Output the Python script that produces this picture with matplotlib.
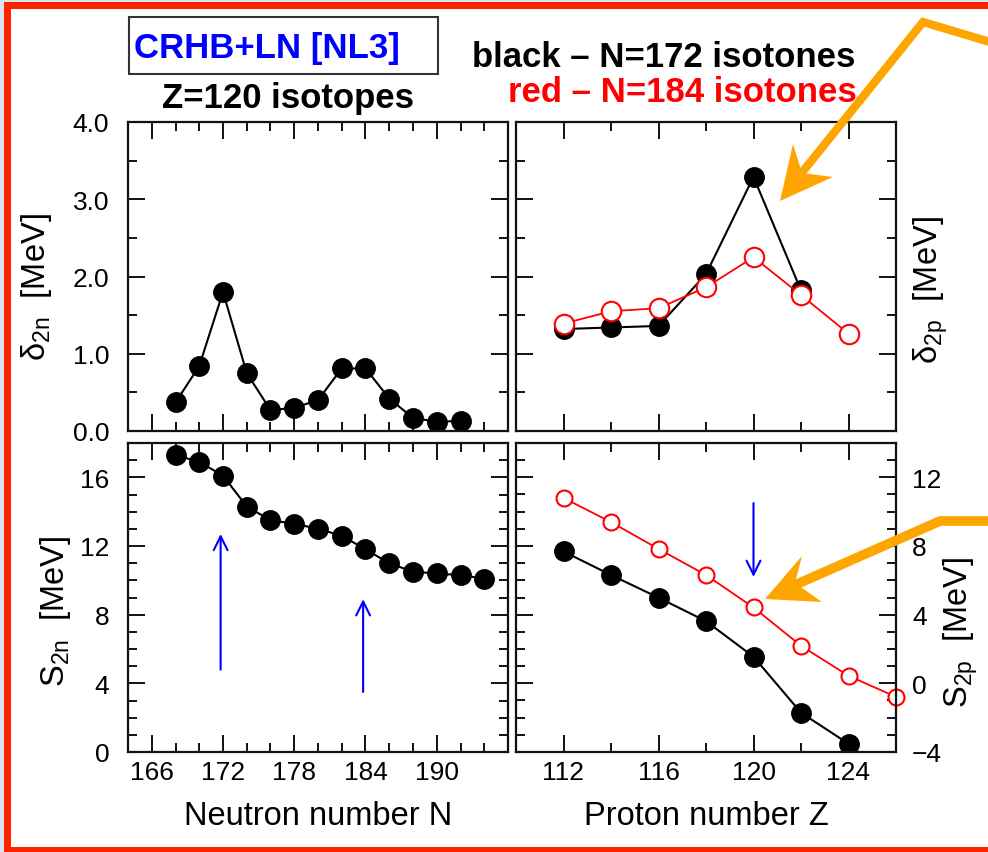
import matplotlib
matplotlib.use("Agg")
import matplotlib.pyplot as plt
from matplotlib.ticker import MultipleLocator, FixedLocator, FormatStrFormatter
from matplotlib.patches import Rectangle, Polygon
from matplotlib.lines import Line2D

plt.rcParams['font.family'] = ['Liberation Sans', 'DejaVu Sans']
plt.rcParams['mathtext.fontset'] = 'custom'
plt.rcParams['mathtext.rm'] = 'Liberation Sans'
plt.rcParams['mathtext.default'] = 'regular'

# Z=120 isotopes
N_d2n = [168, 170, 172, 174, 176, 178, 180, 182, 184, 186, 188, 190, 192]
d2n = [0.37, 0.84, 1.80, 0.75, 0.27, 0.30, 0.40, 0.81, 0.81, 0.42, 0.17, 0.12, 0.13]
N_s2n = [168, 170, 172, 174, 176, 178, 180, 182, 184, 186, 188, 190, 192, 194]
s2n = [17.3, 16.9, 16.1, 14.3, 13.5, 13.3, 13.0, 12.6, 11.8, 11.0, 10.5, 10.4, 10.3, 10.1]

# isotones: black N=172, red N=184
Z_d2p_black = [112, 114, 116, 118, 120, 122]
d2p_black = [1.32, 1.34, 1.36, 2.03, 3.29, 1.82]
Z_d2p_red = [112, 114, 116, 118, 120, 122, 124]
d2p_red = [1.39, 1.55, 1.59, 1.86, 2.25, 1.76, 1.26]
Z_s2p_black = [112, 114, 116, 118, 120, 122, 124]
s2p_black = [7.68, 6.31, 4.99, 3.62, 1.55, -1.71, -3.52]
Z_s2p_red = [112, 114, 116, 118, 120, 122, 124, 126]
s2p_red = [10.8, 9.39, 7.83, 6.31, 4.42, 2.19, 0.44, -0.79]

# blue arrows (x, y_start, y_end)
arrows_n = [(171.8, 4.8, 12.7), (183.8, 3.5, 8.9)]
arrows_z = [(120.0, 10.5, 6.2)]

W, H = 988, 853
def px(x, y):
    return (x / W, 1 - y / H)

fig = plt.figure(figsize=(W / 100, H / 100), dpi=100)
fig.patch.set_facecolor('#d8e5f2')

# frame
fig.add_artist(Rectangle(px(4, 870), 1.2, (870 - 3) / H, transform=fig.transFigure,
                         facecolor='#ff2200', edgecolor='none', zorder=-10))
fig.add_artist(Rectangle(px(11, 848), 1.2, (848 - 10) / H, transform=fig.transFigure,
                         facecolor='white', edgecolor='none', zorder=-9))

lx, rx = 128 / W, 516 / W
aw = 380 / W
ah = 309 / H
ty, by = 1 - 432 / H, 1 - 753 / H

ax1 = fig.add_axes([lx, ty, aw, ah])
ax2 = fig.add_axes([rx, ty, aw, ah])
ax3 = fig.add_axes([lx, by, aw, ah])
ax4 = fig.add_axes([rx, by, aw, ah])

for ax in (ax1, ax2, ax3, ax4):
    ax.tick_params(which='both', direction='in', top=True, right=True, width=1.4,
                   labelsize=19, color='#111111')
    ax.tick_params(which='major', length=12)
    ax.tick_params(which='minor', length=6.5)
    ax.tick_params(axis='x', pad=6)
    for s in ax.spines.values():
        s.set_linewidth(1.6)
        s.set_color('#111111')

for ax in (ax1, ax3):
    ax.set_xlim(164, 196)
    ax.xaxis.set_major_locator(FixedLocator([166, 172, 178, 184, 190]))
    ax.xaxis.set_minor_locator(MultipleLocator(2))
    ax.tick_params(axis='y', pad=13.5)
for ax in (ax2, ax4):
    ax.set_xlim(110, 126)
    ax.xaxis.set_major_locator(MultipleLocator(4))
    ax.xaxis.set_minor_locator(MultipleLocator(2))
for ax in (ax1, ax2):
    ax.set_ylim(0, 4)
    ax.yaxis.set_major_locator(MultipleLocator(1))
    ax.yaxis.set_minor_locator(MultipleLocator(0.5))
    ax.tick_params(labelbottom=False)

ax1.yaxis.set_major_formatter(FormatStrFormatter('%.1f'))
ax2.tick_params(labelleft=False)

ax3.set_ylim(0, 18)
ax3.yaxis.set_major_locator(FixedLocator([0, 4, 8, 12, 16]))
ax3.yaxis.set_minor_locator(MultipleLocator(1))

ax4.set_ylim(-4, 14)
ax4.yaxis.set_major_locator(FixedLocator([-4, 0, 4, 8, 12]))
ax4.yaxis.set_minor_locator(MultipleLocator(1))
ax4.tick_params(axis='y', labelleft=False, labelright=True, pad=11.5)

black = dict(color='black', lw=1.5, marker='o', ms=14, mfc='black', mec='black')
ax1.plot(N_d2n, d2n, **black)
ax3.plot(N_s2n, s2n, **black)
ax2.plot(Z_d2p_black, d2p_black, **black)
ax2.plot(Z_d2p_red, d2p_red, color='red', lw=1.3, marker='o', ms=14, mfc='white',
         mec='red', mew=1.5)
ax4.plot(Z_s2p_black, s2p_black, **black)
ax4.plot(Z_s2p_red, s2p_red, color='red', lw=1.3, marker='o', ms=11.5, mfc='white',
         mec='red', mew=1.5, clip_on=False)

for x, y0, y1 in arrows_n:
    ax3.annotate('', xy=(x, y1), xytext=(x, y0),
                 arrowprops=dict(arrowstyle='->', color='blue', lw=1.5,
                                 mutation_scale=25, shrinkA=0, shrinkB=0))
for x, y0, y1 in arrows_z:
    ax4.annotate('', xy=(x, y1), xytext=(x, y0),
                 arrowprops=dict(arrowstyle='->', color='blue', lw=1.5,
                                 mutation_scale=25, shrinkA=0, shrinkB=0))

lab = 23.5
ax1.set_ylabel('δ$_{2n}$  [MeV]', fontsize=lab)
ax1.yaxis.set_label_coords(-0.195, 0.47)
ax3.set_ylabel('S$_{2n}$  [MeV]', fontsize=lab)
ax3.yaxis.set_label_coords(-0.145, 0.46)
ax2.yaxis.set_label_position('right')
ax2.set_ylabel('δ$_{2p}$  [MeV]', fontsize=lab)
ax2.yaxis.set_label_coords(1.042, 0.46)
ax4.yaxis.set_label_position('right')
ax4.set_ylabel('S$_{2p}$  [MeV]', fontsize=lab)
ax4.yaxis.set_label_coords(1.121, 0.39)
ax3.set_xlabel('Neutron number N', fontsize=lab)
ax3.xaxis.set_label_coords(0.5, -0.155)
ax4.set_xlabel('Proton number Z', fontsize=lab)
ax4.xaxis.set_label_coords(0.5, -0.155)

# header texts
fig.add_artist(Rectangle(px(129, 75), 309 / W, 57 / H, transform=fig.transFigure,
                         facecolor='white', edgecolor='#333333', lw=1.5))
fig.text(*px(134, 58), 'CRHB+LN [NL3]', color='#0000ff', fontsize=25,
         fontweight='bold', va='baseline', ha='left')
fig.text(*px(162, 108), 'Z=120 isotopes', color='black', fontsize=25,
         fontweight='bold', va='baseline', ha='left')
fig.text(*px(855, 67), 'black – N=172 isotones', color='black', fontsize=25,
         fontweight='bold', va='baseline', ha='right')
fig.text(*px(857, 102), 'red – N=184 isotones', color='red', fontsize=25,
         fontweight='bold', va='baseline', ha='right')

# orange pointers
orange = '#ffa500'
def pointer(path, head, lw):
    xs, ys = zip(*[px(x, y) for x, y in path])
    fig.add_artist(Line2D(xs, ys, transform=fig.transFigure, color=orange, lw=lw,
                          solid_joinstyle='miter', solid_capstyle='butt', zorder=20))
    fig.add_artist(Polygon([px(x, y) for x, y in head], closed=True,
                           transform=fig.transFigure, facecolor=orange,
                           edgecolor='none', zorder=21))

pointer([(1000, 46), (923, 23), (800, 176)],
        [(780, 202), (793, 145), (802, 174), (833, 178)], 6)
pointer([(1000, 522), (940, 522), (795, 586)],
        [(765, 600), (802, 557), (795, 584), (822, 603)], 7)

fig.savefig('out.png', dpi=100, facecolor=fig.get_facecolor())
